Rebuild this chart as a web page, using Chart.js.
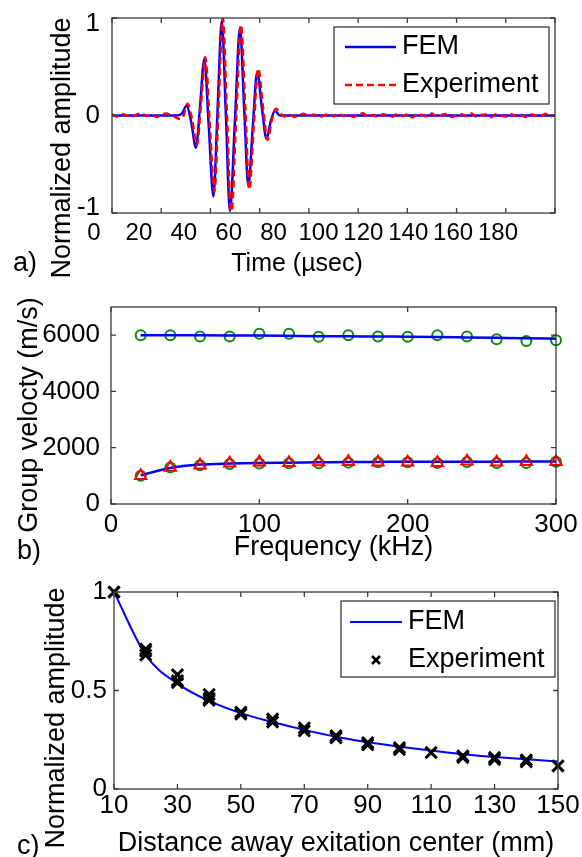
<!DOCTYPE html>
<html>
<head>
<meta charset="utf-8">
<script src="https://cdn.jsdelivr.net/npm/chart.js@4.4.1/dist/chart.umd.min.js"></script>
<style>
  html, body { margin: 0; padding: 0; background: #fff; }
  #page { position: relative; width: 582px; height: 857px; overflow: hidden; }
  canvas { position: absolute; left: 0; }
</style>
</head>
<body>
<div id="page">
  <canvas id="chartA" width="582" height="280" style="top:0"></canvas>
  <canvas id="chartB" width="582" height="300" style="top:280px"></canvas>
  <canvas id="chartC" width="582" height="277" style="top:580px"></canvas>
</div>
<script>
//======================================
// a) time signal
//======================================
const timeTicks = [0, 20, 40, 60, 80, 100, 120, 140, 160, 180];
const ampTicks = [-1, 0, 1];

const femTime = [0, 10, 20, 26, 28.4, 30.3, 32.2, 34.1, 35.8, 37.5, 39.3, 41.2, 42.9, 44.6, 46.3, 47.9,
  50.0, 52.0, 53.7, 55.4, 57.2, 59.0, 60.9, 62.8, 64.5, 66.2, 68.2, 72, 90, 120, 150, 180];
const femAmp = [0, 0, 0, 0, 0.02, 0.1, -0.07, -0.33, 0.1, 0.58, -0.1, -0.83, 0.06, 0.97, -0.01, -0.98,
  -0.03, 0.9, 0.08, -0.72, -0.12, 0.45, 0.08, -0.24, -0.06, 0.05, 0.0, 0, 0, 0, 0, 0];

const expTime = [0, 2, 4, 6, 8, 10, 12, 14, 16, 18, 20, 22, 24, 26, 27.5, 28.9,
  30.7, 32.6, 34.5, 36.2, 37.9, 39.7, 41.6, 43.3, 45.0, 46.7, 48.4, 50.4, 52.4, 54.1, 55.8,
  57.6, 59.4, 61.3, 63.2, 64.9, 66.6, 68.5,
  70, 72, 74, 76, 78, 80, 82, 84, 86, 88, 90, 92, 94, 96, 98, 100, 102, 104, 106, 108,
  110, 112, 114, 116, 118, 120, 122, 124, 126, 128, 130, 132, 134, 136, 138, 140, 142, 144,
  146, 148, 150, 152, 154, 156, 158, 160, 162, 164, 166, 168, 170, 172, 174, 176, 178, 180];
const expAmp = [0.01, -0.01, 0.015, 0.0, -0.012, 0.01, 0.02, -0.005, 0.012, -0.015, 0.005, 0.02, 0.0, -0.02, -0.035, -0.01,
  0.12, -0.05, -0.30, 0.13, 0.6, -0.08, -0.78, 0.1, 1.0, 0.02, -1.04, -0.06, 0.93, 0.1, -0.76,
  -0.1, 0.48, 0.1, -0.25, -0.05, 0.07, 0.02,
  -0.01, 0.012, -0.015, 0.005, 0.018, -0.008, 0.01, -0.02, 0.0, 0.015, -0.01, 0.02, -0.005, 0.01, -0.015, 0.008, 0.022, -0.01, 0.005, -0.018,
  0.012, 0.0, -0.012, 0.018, -0.006, 0.01, -0.02, 0.014, 0.004, -0.01, 0.02, -0.012, 0.006, 0.015, -0.015, 0.0, 0.012, -0.008,
  0.02, -0.014, 0.005, 0.01, -0.018, 0.012, 0.0, -0.01, 0.016, -0.006, 0.01, -0.016, 0.014, 0.002, -0.012, 0.018, -0.008, 0.006];

//======================================
// b) group velocity
//======================================
const freqTicks = [0, 100, 200, 300];
const velTicks = [0, 2000, 4000, 6000];

const freqKHz = [20, 40, 60, 80, 100, 120, 140, 160, 180, 200, 220, 240, 260, 280, 300];
const femFast = [6000, 6000, 5995, 5990, 5985, 5975, 5965, 5960, 5950, 5945, 5935, 5920, 5905, 5890, 5870];
const femSlow = [1020, 1280, 1400, 1440, 1460, 1470, 1480, 1490, 1495, 1500, 1500, 1505, 1505, 1510, 1510];
const circFast = [6000, 6000, 5950, 5950, 6050, 6050, 5940, 6000, 5950, 5940, 6000, 5950, 5850, 5790, 5820];
const circSlow = [1000, 1300, 1380, 1420, 1440, 1450, 1450, 1470, 1480, 1480, 1460, 1490, 1460, 1460, 1500];
const triSlow = [1000, 1300, 1380, 1450, 1480, 1470, 1490, 1500, 1480, 1480, 1470, 1520, 1480, 1500, 1500];

//======================================
// c) amplitude decay
//======================================
const distTicks = [10, 30, 50, 70, 90, 110, 130, 150];
const decayTicks = [0, 0.5, 1];

const distMm = [10, 20, 30, 40, 50, 60, 70, 80, 90, 100, 110, 120, 130, 140, 150];
const femDecay = [1.0, 0.68, 0.535, 0.447, 0.385, 0.34, 0.30, 0.265, 0.237, 0.215, 0.195, 0.177, 0.163, 0.151, 0.14];
const expDist = [10, 20, 20, 20, 30, 30, 30, 40, 40, 40, 50, 50, 60, 60, 70, 70,
  80, 80, 90, 90, 100, 100, 110, 120, 120, 130, 130, 140, 140, 150];
const expDecay = [1.0, 0.71, 0.70, 0.68, 0.58, 0.55, 0.54, 0.48, 0.46, 0.45, 0.39, 0.38, 0.355, 0.34, 0.31, 0.295,
  0.27, 0.26, 0.235, 0.225, 0.21, 0.20, 0.185, 0.168, 0.16, 0.16, 0.15, 0.148, 0.138, 0.117];

//======================================
// helpers
//======================================
const FONT = "'Liberation Sans', Arial, sans-serif";
const FRAME = '#3a3a3a';
Chart.defaults.font.family = FONT;
Chart.defaults.color = '#000';

const pairs = (xs, ys) => xs.map((x, i) => ({x: x, y: ys[i]}));
const useTicks = arr => s => { s.ticks = arr.map(v => ({value: v})); };

//fix the axis size and drop the extra room chart.js keeps for the end labels
function fixSize(pos, size) {
    return s => {
        if(pos == 'left') s.width = size;
        else s.height = size;
        s.paddingTop = 0;
        s.paddingBottom = 0;
        s.paddingLeft = 0;
        s.paddingRight = 0;
    };
}

//axis settings shared by the visible axes (no grid, labels only)
function labelAxis(pos, min, max, ticks, size, padding, fontSize, title) {
    let axis = {
        type: 'linear',
        position: pos,
        min: min,
        max: max,
        afterBuildTicks: useTicks(ticks),
        afterFit: fixSize(pos, size),
        grid: { display: false, drawTicks: false },
        border: { display: false },
        ticks: { autoSkip: false, maxRotation: 0, padding: padding, font: { size: fontSize }, callback: v => String(v) }
    };
    if(title) axis.title = title;
    return axis;
}

/** matlab style box with the ticks pointing inward on all sides */
const boxAxes = {
    id: 'boxAxes',
    afterDatasetsDraw(chart, args, opts) {
        const ctx = chart.ctx;
        const a = chart.chartArea;
        const xs = chart.scales.x, ys = chart.scales.y;
        const len = 5;
        ctx.save();
        ctx.strokeStyle = FRAME;
        ctx.lineWidth = 1.3;
        ctx.beginPath();
        opts.xTicks.forEach(v => {
            let px = xs.getPixelForValue(v);
            ctx.moveTo(px, a.bottom); ctx.lineTo(px, a.bottom - len);
            ctx.moveTo(px, a.top); ctx.lineTo(px, a.top + len);
        });
        opts.yTicks.forEach(v => {
            let py = ys.getPixelForValue(v);
            ctx.moveTo(a.left, py); ctx.lineTo(a.left + len, py);
            ctx.moveTo(a.right, py); ctx.lineTo(a.right - len, py);
        });
        ctx.stroke();
        ctx.strokeRect(a.left, a.top, a.right - a.left, a.bottom - a.top);
        ctx.restore();
    }
};

/** legend in a framed box at the top right of the plot */
const boxLegend = {
    id: 'boxLegend',
    afterDraw(chart, args, opts) {
        if(!opts.show) return;
        const ctx = chart.ctx;
        const a = chart.chartArea;
        const x0 = a.right - opts.right - opts.width;
        const y0 = a.top + opts.top;
        ctx.save();
        ctx.fillStyle = '#fff';
        ctx.fillRect(x0, y0, opts.width, opts.height);
        ctx.strokeStyle = FRAME;
        ctx.lineWidth = 1.3;
        ctx.strokeRect(x0, y0, opts.width, opts.height);
        ctx.font = opts.fontSize + 'px ' + FONT;
        ctx.textBaseline = 'middle';
        ctx.textAlign = 'left';
        chart.data.datasets.forEach((ds, i) => {
            let cy = y0 + opts.rows[i];
            let s0 = x0 + opts.sampleFrom, s1 = x0 + opts.sampleTo;
            ctx.save();
            if(ds.showLine) {
                ctx.strokeStyle = ds.borderColor;
                ctx.lineWidth = ds.borderWidth;
                ctx.setLineDash(ds.borderDash || []);
                ctx.beginPath();
                ctx.moveTo(s0, cy); ctx.lineTo(s1, cy);
                ctx.stroke();
            }
            else {
                //the cross marker, drawn smaller than in the plot
                let cx = (s0 + s1) / 2, r = 4;
                ctx.strokeStyle = ds.pointBorderColor;
                ctx.lineWidth = 2.5;
                ctx.beginPath();
                ctx.moveTo(cx - r, cy - r); ctx.lineTo(cx + r, cy + r);
                ctx.moveTo(cx - r, cy + r); ctx.lineTo(cx + r, cy - r);
                ctx.stroke();
            }
            ctx.restore();
            ctx.fillStyle = '#000';
            ctx.fillText(ds.label, x0 + opts.textAt, cy);
        });
        ctx.restore();
    }
};

/** the panel letter and the rotated y label */
const panelText = {
    id: 'panelText',
    afterDraw(chart, args, opts) {
        const ctx = chart.ctx;
        ctx.save();
        ctx.fillStyle = '#000';
        ctx.font = opts.fontSize + 'px ' + FONT;
        ctx.textBaseline = 'middle';
        ctx.textAlign = 'left';
        ctx.fillText(opts.letter, opts.letterX, opts.letterY);
        ctx.translate(opts.titleX, opts.titleY);
        ctx.rotate(-Math.PI / 2);
        ctx.textAlign = 'center';
        ctx.fillText(opts.yTitle, 0, 0);
        ctx.restore();
    }
};

const baseOptions = {
    responsive: false,
    animation: false,
    devicePixelRatio: 1,
    events: []
};

//======================================
// chart a
//======================================
new Chart(document.getElementById('chartA'), {
    type: 'scatter',
    data: {
        datasets: [
            { label: 'FEM', data: pairs(femTime, femAmp), showLine: true, borderColor: '#0000ff', borderWidth: 2.5,
              pointRadius: 0, cubicInterpolationMode: 'monotone', order: 1 },
            { label: 'Experiment', data: pairs(expTime, expAmp), showLine: true, borderColor: '#ff0000', borderWidth: 2.5,
              borderDash: [7, 4], pointRadius: 0, cubicInterpolationMode: 'monotone', order: 0 }
        ]
    },
    options: Object.assign({}, baseOptions, {
        layout: { padding: { left: 39, right: 27, top: 18, bottom: 0 } },
        scales: {
            x: { type: 'linear', display: false, min: 0, max: 180 },
            y: { type: 'linear', display: false, min: -1, max: 1 },
            //the tick labels of this panel sit a little off the tick marks
            xLab: labelAxis('bottom', 8.0, 205.4, timeTicks, 38.5, 6, 24),
            yLab: labelAxis('left', -1.054, 1.065, ampTicks, 73, 12, 26)
        },
        plugins: {
            legend: { display: false },
            tooltip: { enabled: false },
            title: { display: true, text: 'Time (\u00b5sec)', position: 'bottom', color: '#000',
                     font: { size: 25, weight: 'normal', lineHeight: 1 }, padding: { top: 0, bottom: 3.5 } },
            boxAxes: { xTicks: timeTicks, yTicks: ampTicks },
            boxLegend: { show: true, right: 6, top: 9, width: 215, height: 77, rows: [20, 58],
                         sampleFrom: 11, sampleTo: 62, textAt: 68, fontSize: 27 },
            panelText: { letter: 'a)', letterX: 13, letterY: 264, yTitle: 'Normalized amplitude',
                         titleX: 63, titleY: 148, fontSize: 27 }
        }
    }),
    plugins: [boxAxes, boxLegend, panelText]
});

//======================================
// chart b
//======================================
new Chart(document.getElementById('chartB'), {
    type: 'scatter',
    data: {
        datasets: [
            { label: 'FEM', data: pairs(freqKHz, femFast), showLine: true, borderColor: '#0000ff', borderWidth: 2.5,
              pointRadius: 0, cubicInterpolationMode: 'monotone', order: 1 },
            { label: 'FEM', data: pairs(freqKHz, femSlow), showLine: true, borderColor: '#0000ff', borderWidth: 2.5,
              pointRadius: 0, cubicInterpolationMode: 'monotone', order: 1 },
            { label: 'circles', data: pairs(freqKHz, circFast).concat(pairs(freqKHz, circSlow)), showLine: false,
              pointStyle: 'circle', pointRadius: 5, pointBorderWidth: 2, pointBorderColor: '#0b8a0b',
              pointBackgroundColor: 'rgba(0,0,0,0)', clip: false, order: 2 },
            { label: 'triangles', data: pairs(freqKHz, triSlow), showLine: false,
              pointStyle: 'triangle', pointRadius: 6.5, pointBorderWidth: 2, pointBorderColor: '#ff0000',
              pointBackgroundColor: 'rgba(0,0,0,0)', clip: false, order: 0 }
        ]
    },
    options: Object.assign({}, baseOptions, {
        layout: { padding: { left: 0, right: 26, top: 27, bottom: 0 } },
        scales: {
            x: labelAxis('bottom', 0, 300, freqTicks, 76, 5, 26,
                { display: true, text: 'Frequency (kHz)', color: '#000', font: { size: 27, lineHeight: 1 },
                  padding: { top: 0, bottom: 18.5 } }),
            y: labelAxis('left', 0, 7000, velTicks, 111, 11, 26)
        },
        plugins: {
            legend: { display: false },
            tooltip: { enabled: false },
            boxAxes: { xTicks: freqTicks, yTicks: velTicks },
            boxLegend: { show: false },
            panelText: { letter: 'b)', letterX: 17, letterY: 272, yTitle: 'Group velocty (m/s)',
                         titleX: 30, titleY: 135, fontSize: 27 }
        }
    }),
    plugins: [boxAxes, boxLegend, panelText]
});

//======================================
// chart c
//======================================
new Chart(document.getElementById('chartC'), {
    type: 'scatter',
    data: {
        datasets: [
            { label: 'FEM', data: pairs(distMm, femDecay), showLine: true, borderColor: '#0000ff', borderWidth: 2,
              pointRadius: 0, cubicInterpolationMode: 'monotone', order: 1 },
            { label: 'Experiment', data: pairs(expDist, expDecay), showLine: false,
              pointStyle: 'crossRot', pointRadius: 8, pointBorderWidth: 3, pointBorderColor: '#000',
              pointBackgroundColor: '#000', clip: false, order: 0 }
        ]
    },
    options: Object.assign({}, baseOptions, {
        layout: { padding: { left: 0, right: 24, top: 12, bottom: 0 } },
        scales: {
            x: labelAxis('bottom', 10, 150, distTicks, 68, 1.5, 26,
                { display: true, text: 'Distance away exitation center (mm)', color: '#000',
                  font: { size: 27, lineHeight: 1 }, padding: { top: 0, bottom: 0 } }),
            y: labelAxis('left', 0, 1, decayTicks, 114, 7, 26)
        },
        plugins: {
            legend: { display: false },
            tooltip: { enabled: false },
            boxAxes: { xTicks: distTicks, yTicks: decayTicks },
            boxLegend: { show: true, right: 3, top: 9, width: 214, height: 76, rows: [21, 59],
                         sampleFrom: 9, sampleTo: 61, textAt: 67, fontSize: 27 },
            panelText: { letter: 'c)', letterX: 17, letterY: 267, yTitle: 'Normalized amplitude',
                         titleX: 57, titleY: 138, fontSize: 27 }
        }
    }),
    plugins: [boxAxes, boxLegend, panelText]
});
</script>
</body>
</html>
